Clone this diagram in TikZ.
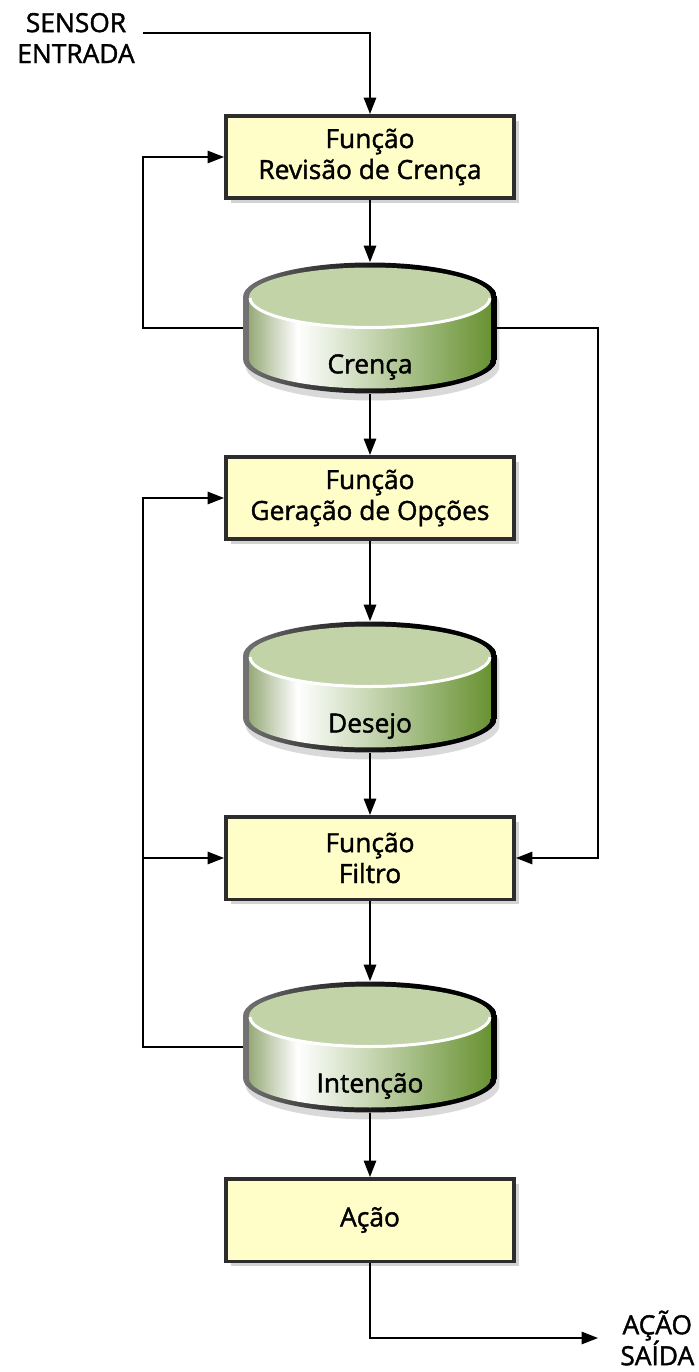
\documentclass[tikz,border=0pt]{standalone}
\usepackage{fontspec}
\setmainfont{Open Sans}[UprightFeatures={FakeBold=1.5}]
\usetikzlibrary{arrows.meta, positioning, shadows}

\definecolor{caixa}{RGB}{255,253,200}
\definecolor{borda}{RGB}{45,45,45}
\definecolor{tampa}{RGB}{194,211,167}
\definecolor{ladoesq}{RGB}{150,170,120}
\definecolor{ladodir}{RGB}{104,146,50}

\pgfdeclarehorizontalshading{ladoverde}{100bp}{color(0bp)=(ladoesq); color(25bp)=(ladoesq); color(35bp)=(white); color(75bp)=(ladodir); color(100bp)=(ladodir)}
\pgfdeclarehorizontalshading{contorno}{100bp}{color(0bp)=(black!55); color(25bp)=(black!55); color(45bp)=(black!85); color(60bp)=(black); color(100bp)=(black)}

\tikzstyle{funcao} = [rectangle, draw=borda, line width=0.07cm, fill=caixa, minimum width=5.77cm, minimum height=1.65cm, align=center, drop shadow={shadow xshift=0.1cm, shadow yshift=-0.1cm, opacity=0.35}]
\tikzstyle{banco} = [rectangle, minimum width=5.08cm, minimum height=2.62cm, inner sep=0pt]
\tikzstyle{rotulo} = [align=center, inner sep=0.15cm]
\tikzstyle{seta} = [line width=0.03cm, -{Triangle[length=0.33cm, width=0.25cm]}]

% cilindro: contorno, lateral com degrade, tampa e nome
\tikzset{
  cilindro/.pic={
    \shade[shading=contorno, drop shadow={shadow xshift=0.05cm, shadow yshift=-0.14cm, opacity=0.3}]
      (-2.54cm,0.62cm) arc[start angle=180, end angle=0, x radius=2.54cm, y radius=0.69cm]
      -- (2.54cm,-0.62cm) arc[start angle=0, end angle=-180, x radius=2.54cm, y radius=0.69cm] -- cycle;
    \shade[shading=ladoverde]
      (-2.42cm,0.62cm) -- (-2.42cm,-0.62cm) arc[start angle=180, end angle=360, x radius=2.42cm, y radius=0.59cm] -- (2.42cm,0.62cm) -- cycle;
    \fill[tampa] (0,0.62cm) ellipse [x radius=2.42cm, y radius=0.59cm];
    \draw[white, line width=0.06cm] (-2.4cm,0.6cm) arc[start angle=180, end angle=360, x radius=2.4cm, y radius=0.59cm];
    \node at (0,-0.78cm) {#1};
  }
}

\begin{document}
\begin{tikzpicture}[x=0.02cm, y=-0.02cm, font=\fontsize{15}{17.6}\selectfont]
\useasboundingbox (0,0) rectangle (699,1372);
\coordinate (esq) at (143,0);
\coordinate (dir) at (598,0);

\node (sensor) [rotulo] at (76,38) {SENSOR\\ENTRADA};
\node (revisao) [funcao] at (370,157) {Função\\Revisão de Crença};
\node (crenca) [banco] at (370,328) {};
\node (opcoes) [funcao] at (370,498) {Função\\Geração de Opções};
\node (desejo) [banco] at (370,687) {};
\node (filtro) [funcao] at (370,858) {Função\\Filtro};
\node (intencao) [banco] at (370,1047) {};
\node (acao) [funcao] at (370,1220) {Ação};
\node (saida) [rotulo, anchor=west, inner xsep=0.44cm] at (598,1338) {AÇÃO\\SAÍDA};

\pic at (crenca) {cilindro=Crença};
\pic at (desejo) {cilindro=Desejo};
\pic at (intencao) {cilindro=Intenção};

% fluxo principal
\draw[seta] ([yshift=0.1cm]sensor.east) -| (revisao.north);
\draw[seta] (revisao) -- (crenca);
\draw[seta] (crenca) -- (opcoes);
\draw[seta] (opcoes) -- (desejo);
\draw[seta] (desejo) -- (filtro);
\draw[seta] (filtro) -- (intencao);
\draw[seta] (intencao) -- (acao);
\draw[seta] (acao.south) |- (saida.west);

% lacos de realimentacao
\draw[seta] (crenca.west) -- (crenca.west -| esq) |- (revisao.west);
\draw[seta] (crenca.east) -- (crenca.east -| dir) |- (filtro.east);
\draw[seta] (intencao.west) -- (intencao.west -| esq) |- (opcoes.west);
\draw[seta] (filtro.west -| esq) -- (filtro.west);
\end{tikzpicture}
\end{document}
